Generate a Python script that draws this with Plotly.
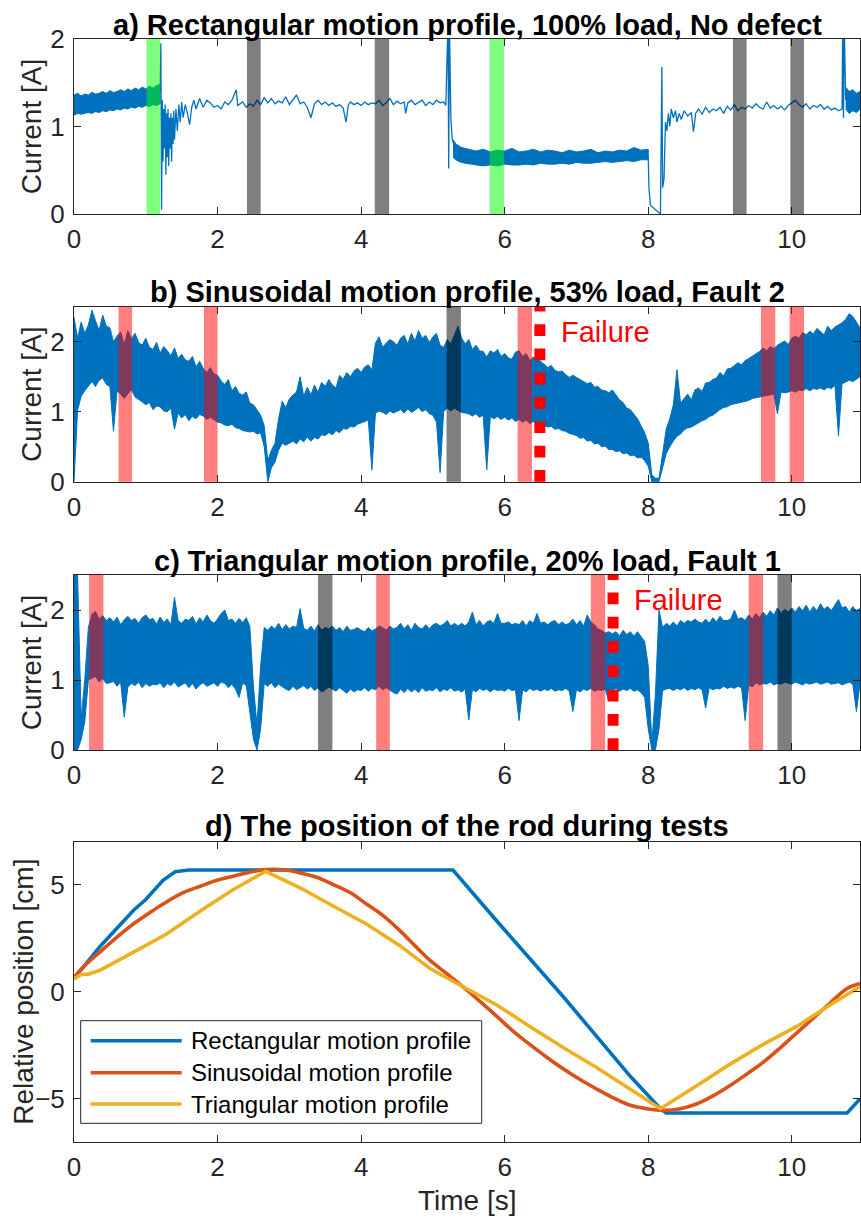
import plotly.graph_objects as go

FONT = "Liberation Sans, Arial, sans-serif"
BLUE = "#0072BD"
ORANGE = "#D95319"
YELLOW = "#EDB120"
AXIS = "#262626"
X_MAX = 10.95
X_TICKS = [0, 2, 4, 6, 8, 10]

# ---------------- a) Rectangular profile, 100% load, no defect ----------------
a_b1_t = [0.00, 0.05, 0.10, 0.15, 0.20, 0.25, 0.30, 0.35, 0.40, 0.45, 0.50, 0.55, 0.60,
          0.65, 0.70, 0.75, 0.80, 0.85, 0.90, 0.95, 1.00, 1.05, 1.10, 1.15, 1.20]
a_b1_hi = [1.36, 1.38, 1.35, 1.37, 1.36, 1.39, 1.37, 1.38, 1.40, 1.38, 1.41, 1.39, 1.40,
           1.42, 1.40, 1.43, 1.41, 1.44, 1.42, 1.45, 1.43, 1.46, 1.44, 1.47, 1.48]
a_b1_lo = [1.13, 1.15, 1.14, 1.15, 1.16, 1.15, 1.17, 1.16, 1.18, 1.17, 1.19, 1.18, 1.20,
           1.19, 1.21, 1.20, 1.22, 1.21, 1.23, 1.22, 1.24, 1.23, 1.25, 1.24, 1.26]

a_l1_t = [1.20, 1.21, 1.22, 1.23, 1.24, 1.25, 1.26, 1.27, 1.28, 1.29, 1.30, 1.31, 1.32, 1.33,
          1.34, 1.35, 1.36, 1.37, 1.38, 1.39, 1.40, 1.42, 1.44, 1.46, 1.48, 1.50, 1.52, 1.55,
          1.58, 1.61, 1.64, 1.67, 1.70, 1.75, 1.80, 1.85, 1.90, 1.95, 2.00, 2.05, 2.10, 2.15,
          2.20, 2.26, 2.28, 2.35, 2.40, 2.45, 2.50, 2.55, 2.60, 2.65, 2.70, 2.75, 2.80, 2.85,
          2.90, 2.95, 3.00, 3.05, 3.10, 3.15, 3.20, 3.25, 3.30, 3.35, 3.40, 3.45, 3.50, 3.55,
          3.60, 3.65, 3.70, 3.75, 3.79, 3.82, 3.85, 3.90, 3.95, 4.00, 4.05, 4.10, 4.15, 4.20,
          4.25, 4.30, 4.35, 4.40, 4.45, 4.50, 4.55, 4.60, 4.62, 4.65, 4.70, 4.75, 4.80, 4.85,
          4.90, 4.95, 5.00, 5.05, 5.10, 5.15, 5.18, 5.21, 5.22, 5.23, 5.25, 5.27, 5.29]
a_l1_y = [1.40, 1.95, 0.05, 1.30, 0.60, 1.20, 0.75, 1.25, 0.45, 1.15, 0.65, 1.20, 0.55, 1.10,
          0.75, 1.15, 0.60, 1.10, 0.80, 1.18, 0.85, 1.20, 0.95, 1.25, 1.05, 1.28, 1.10, 1.25,
          1.15, 1.02, 1.22, 1.30, 1.20, 1.32, 1.22, 1.30, 1.27, 1.22, 1.24, 1.20, 1.28, 1.25,
          1.30, 1.42, 1.24, 1.28, 1.22, 1.26, 1.23, 1.30, 1.25, 1.33, 1.27, 1.32, 1.26, 1.29,
          1.27, 1.34, 1.25, 1.30, 1.36, 1.26, 1.28, 1.22, 1.10, 1.26, 1.30, 1.25, 1.28, 1.24,
          1.27, 1.23, 1.25, 1.21, 1.05, 1.24, 1.28, 1.25, 1.27, 1.24, 1.28, 1.25, 1.27, 1.26,
          1.30, 1.24, 1.27, 1.32, 1.25, 1.29, 1.26, 1.28, 1.15, 1.27, 1.30, 1.25, 1.28, 1.30,
          1.24, 1.28, 1.25, 1.30, 1.27, 1.28, 1.24, 2.20, 0.52, 2.20, 1.10, 0.85, 0.80]

a_b2_t = [5.28, 5.32, 5.36, 5.40, 5.45, 5.50, 5.60, 5.70, 5.80, 5.90, 6.00, 6.10, 6.20, 6.30,
          6.40, 6.50, 6.60, 6.70, 6.80, 6.90, 7.00, 7.10, 7.20, 7.30, 7.40, 7.50, 7.60, 7.70,
          7.80, 7.90, 8.00]
a_b2_hi = [0.85, 0.80, 0.78, 0.76, 0.75, 0.74, 0.72, 0.74, 0.71, 0.73, 0.72, 0.75, 0.71, 0.72,
           0.74, 0.71, 0.73, 0.72, 0.70, 0.73, 0.71, 0.72, 0.74, 0.70, 0.72, 0.71, 0.73, 0.72,
           0.76, 0.73, 0.74]
a_b2_lo = [0.65, 0.62, 0.60, 0.59, 0.58, 0.57, 0.56, 0.55, 0.56, 0.55, 0.57, 0.56, 0.56, 0.57,
           0.56, 0.58, 0.57, 0.57, 0.58, 0.57, 0.59, 0.58, 0.58, 0.59, 0.60, 0.59, 0.60, 0.61,
           0.60, 0.62, 0.62]

a_l2_t = [8.00, 8.01, 8.03, 8.06, 8.10, 8.14, 8.17, 8.19, 8.20, 8.22, 8.24, 8.26, 8.28, 8.30,
          8.32, 8.35, 8.38, 8.40, 8.43, 8.46, 8.50, 8.55, 8.60, 8.63, 8.66, 8.70, 8.75, 8.80,
          8.85, 8.90, 8.95, 9.00, 9.05, 9.10, 9.15, 9.20, 9.25, 9.30, 9.35, 9.40, 9.45, 9.50,
          9.55, 9.60, 9.65, 9.70, 9.75, 9.80, 9.85, 9.90, 9.95, 10.00, 10.05, 10.10, 10.15,
          10.20, 10.25, 10.30, 10.35, 10.40, 10.45, 10.50, 10.55, 10.60, 10.65, 10.70, 10.71,
          10.72, 10.73, 10.75]
a_l2_y = [0.65, 0.30, 0.10, 0.08, 0.05, 0.03, 0.00, 1.68, 0.30, 0.40, 1.05, 0.95, 1.15, 1.00,
          1.20, 1.10, 1.18, 1.05, 1.15, 1.08, 1.18, 1.12, 1.16, 0.94, 1.15, 1.20, 1.14, 1.22,
          1.16, 1.20, 1.18, 1.22, 1.15, 1.23, 1.19, 1.25, 1.18, 1.22, 1.20, 1.24, 1.21, 1.26,
          1.22, 1.20, 1.28, 1.21, 1.24, 1.20, 1.23, 1.19, 1.24, 1.27, 1.30, 1.25, 1.22,
          1.26, 1.20, 1.24, 1.22, 1.25, 1.20, 1.23, 1.19, 1.21, 1.18, 1.20, 2.20,
          1.10, 2.20, 1.30]

a_b3_t = [10.75, 10.80, 10.85, 10.90, 10.95]
a_b3_hi = [1.45, 1.40, 1.42, 1.38, 1.40]
a_b3_lo = [1.20, 1.15, 1.18, 1.16, 1.20]

a_green = [(1.01, 1.20), (5.79, 5.99)]
a_gray = [(2.41, 2.60), (4.19, 4.39), (9.18, 9.37), (9.98, 10.17)]

# ---------------- b) Sinusoidal profile, 53% load, Fault 2 ----------------
# upper / lower envelope of the sampled current, one value every 0.05 s from t = 0
SAMPLE_DT = 0.05
b_hi = [2.35, 2.05, 2.28, 2.12, 2.24, 2.45, 2.30, 2.16, 2.38, 2.22,
        2.20, 2.00, 2.08, 2.14, 1.96, 2.16, 2.04, 2.12, 1.99, 1.95,
        2.05, 1.92, 1.89, 1.99, 1.84, 1.93, 1.87, 1.80, 1.91, 1.76,
        1.82, 1.74, 1.72, 1.79, 1.64, 1.72, 1.62, 1.56, 1.63, 1.54,
        1.52, 1.44, 1.39, 1.46, 1.30, 1.36, 1.26, 1.24, 1.28, 1.12,
        1.10, 1.02, 0.95, 0.80, 0.30, 0.45, 0.55, 0.90, 1.15, 1.06,
        1.18, 1.24, 1.28, 1.50, 1.22, 1.35, 1.24, 1.38, 1.28, 1.42,
        1.36, 1.46, 1.38, 1.34, 1.52, 1.46, 1.56, 1.50, 1.58, 1.62,
        1.56, 1.64, 1.67, 1.60, 1.98, 2.07, 1.92, 1.98, 2.03, 2.00,
        1.95, 2.05, 2.09, 1.97, 2.12, 2.01, 2.16, 2.05, 2.09, 1.99,
        2.07, 2.12, 1.95, 1.92, 2.03, 1.97, 2.09, 2.22, 2.05, 1.97,
        2.03, 1.89, 1.95, 1.87, 1.86, 1.78, 1.87, 1.84, 1.89, 1.79,
        1.83, 1.77, 1.75, 1.85, 1.87, 1.79, 1.83, 1.73, 1.78, 1.76,
        1.72, 1.67, 1.63, 1.66, 1.59, 1.57, 1.58, 1.53, 1.49, 1.52,
        1.49, 1.45, 1.43, 1.40, 1.42, 1.35, 1.36, 1.31, 1.30, 1.27,
        1.31, 1.24, 1.17, 1.13, 1.05, 1.03, 0.97, 0.90, 0.80, 0.70,
        0.55, 0.10, 0.05, 0.05, 0.40, 0.75, 0.90, 1.10, 1.60, 1.12,
        1.19, 1.25, 1.17, 1.31, 1.34, 1.29, 1.41, 1.42, 1.46, 1.48,
        1.56, 1.51, 1.61, 1.62, 1.66, 1.70, 1.67, 1.73, 1.76, 1.79,
        1.83, 1.86, 1.91, 1.87, 1.93, 1.90, 1.95, 1.98, 2.01, 1.96,
        2.05, 2.08, 2.05, 2.13, 2.10, 2.15, 2.11, 2.19, 2.14, 2.10,
        2.22, 2.16, 2.21, 2.24, 2.27, 2.32, 2.40, 2.36, 2.28, 2.20]
b_lo = [0.00, 1.02, 1.22, 1.30, 1.37, 1.43, 1.36, 1.45, 1.48, 1.39,
        1.36, 0.72, 1.30, 1.25, 1.19, 1.26, 1.32, 1.21, 1.18, 1.14,
        1.10, 1.13, 1.03, 1.08, 1.07, 1.01, 1.00, 1.05, 0.75, 0.98,
        0.91, 0.96, 0.87, 0.93, 0.90, 0.96, 0.94, 0.89, 0.92, 0.88,
        0.85, 0.84, 0.81, 0.80, 0.82, 0.77, 0.76, 0.73, 0.72, 0.71,
        0.72, 0.68, 0.70, 0.50, 0.00, 0.20, 0.28, 0.45, 0.55, 0.52,
        0.55, 0.58, 0.54, 0.61, 0.57, 0.64, 0.58, 0.63, 0.61, 0.67,
        0.66, 0.70, 0.67, 0.73, 0.70, 0.76, 0.75, 0.79, 0.78, 0.82,
        0.84, 0.86, 0.88, 0.17, 0.98, 1.01, 0.99, 0.96, 1.01, 0.98,
        1.00, 1.03, 0.98, 1.04, 0.99, 1.02, 1.06, 1.00, 1.03, 0.97,
        0.95, 0.85, 0.13, 1.00, 1.05, 1.01, 1.05, 1.02, 0.99, 0.98,
        0.97, 0.94, 0.97, 0.92, 0.95, 0.17, 0.93, 0.90, 0.93, 0.89,
        0.92, 0.88, 0.91, 0.86, 0.89, 0.85, 0.88, 0.83, 0.86, 0.82,
        0.82, 0.80, 0.78, 0.79, 0.75, 0.76, 0.73, 0.72, 0.69, 0.67,
        0.66, 0.62, 0.63, 0.58, 0.59, 0.54, 0.55, 0.50, 0.51, 0.46,
        0.46, 0.43, 0.44, 0.40, 0.41, 0.37, 0.38, 0.34, 0.35, 0.30,
        0.22, 0.00, 0.00, 0.00, 0.20, 0.40, 0.50, 0.58, 0.65, 0.68,
        0.74, 0.77, 0.78, 0.81, 0.84, 0.87, 0.89, 0.93, 0.95, 0.99,
        1.03, 1.06, 1.07, 1.10, 1.11, 1.12, 1.14, 1.15, 1.16, 1.19,
        1.20, 1.21, 1.23, 1.24, 1.24, 1.25, 0.97, 1.28, 1.27, 1.28,
        1.30, 1.28, 1.31, 1.30, 1.33, 1.30, 1.33, 1.32, 1.34, 1.31,
        1.35, 1.33, 1.38, 0.65, 1.40, 1.42, 1.45, 1.43, 1.47, 1.50]

b_red = [(0.62, 0.81), (1.81, 2.00), (6.18, 6.38), (9.57, 9.77), (9.97, 10.17)]
b_gray = [(5.19, 5.39)]
b_failure = 6.49

# ---------------- c) Triangular profile, 20% load, Fault 1 ----------------
c_hi = [2.50, 2.50, 0.45, 1.00, 1.75, 1.94, 1.98, 1.87, 1.92, 1.85,
        1.89, 1.83, 1.90, 1.79, 1.86, 1.91, 1.85, 1.88, 1.81, 1.89,
        1.93, 1.86, 1.88, 1.80, 1.90, 1.82, 1.87, 1.79, 2.18, 1.85,
        1.81, 1.87, 1.85, 1.91, 1.80, 1.89, 1.83, 1.93, 1.85, 1.81,
        1.87, 1.95, 2.00, 1.85, 1.87, 1.81, 1.88, 1.82, 1.89, 1.76,
        0.90, 0.35, 1.20, 1.75, 1.71, 1.77, 1.73, 1.81, 1.72, 1.79,
        1.73, 1.77, 1.75, 2.02, 1.74, 1.71, 1.77, 1.70, 1.79, 1.71,
        1.75, 1.73, 1.77, 1.71, 1.75, 1.69, 1.77, 1.71, 1.72, 1.75,
        1.71, 1.69, 1.75, 1.70, 1.73, 1.77, 1.75, 1.71, 1.77, 1.73,
        1.75, 1.81, 1.73, 1.79, 1.71, 1.81, 1.75, 1.73, 1.79, 1.73,
        1.79, 1.81, 1.77, 1.80, 1.85, 1.77, 1.81, 1.77, 1.81, 1.77,
        1.83, 1.97, 1.79, 1.85, 1.77, 1.83, 1.85, 1.81, 1.95, 1.81,
        1.81, 1.83, 1.79, 1.81, 1.79, 1.85, 1.77, 1.85, 1.81, 1.95,
        1.81, 1.83, 1.79, 1.83, 1.85, 1.79, 1.83, 1.79, 1.81, 1.87,
        1.79, 1.85, 1.77, 1.93, 1.83, 1.79, 1.73, 1.71, 1.67, 1.69,
        1.66, 1.69, 1.63, 1.71, 1.65, 1.69, 1.63, 1.69, 1.62, 1.55,
        1.20, 0.10, 0.80, 2.00, 1.75, 1.81, 1.77, 1.83, 1.77, 1.85,
        1.81, 1.85, 1.83, 1.87, 1.83, 1.81, 1.87, 1.81, 1.89, 1.83,
        1.91, 1.85, 1.85, 1.87, 2.00, 1.87, 1.89, 1.85, 1.93, 1.87,
        1.95, 1.89, 1.97, 1.91, 1.99, 1.93, 2.03, 1.95, 2.01, 1.97,
        2.03, 1.97, 2.05, 1.99, 2.07, 1.97, 2.05, 1.99, 2.09, 2.01,
        2.05, 1.99, 2.07, 2.15, 2.03, 2.05, 1.97, 2.05, 1.99, 2.02]
c_lo = [0.00, 0.00, 0.15, 0.40, 1.00, 1.03, 1.05, 0.97, 1.02, 0.95,
        0.96, 0.98, 0.91, 0.97, 0.47, 0.90, 0.95, 0.92, 0.97, 0.89,
        0.95, 0.91, 0.94, 0.93, 0.96, 0.89, 0.95, 0.92, 0.97, 0.90,
        0.93, 0.96, 0.89, 0.95, 0.87, 0.93, 0.96, 0.91, 0.94, 0.96,
        0.91, 0.97, 0.95, 0.89, 0.94, 0.87, 0.75, 0.96, 0.92, 0.55,
        0.15, 0.00, 0.30, 0.95, 0.91, 0.96, 0.89, 0.94, 0.91, 0.87,
        0.85, 0.91, 0.86, 0.89, 0.92, 0.87, 0.91, 0.85, 0.89, 0.83,
        0.86, 0.90, 0.87, 0.84, 0.89, 0.85, 0.81, 0.87, 0.83, 0.86,
        0.85, 0.89, 0.84, 0.88, 0.86, 0.91, 0.86, 0.89, 0.85, 0.82,
        0.80, 0.87, 0.82, 0.88, 0.83, 0.87, 0.82, 0.89, 0.84, 0.86,
        0.85, 0.89, 0.83, 0.87, 0.85, 0.89, 0.84, 0.86, 0.83, 0.87,
        0.43, 0.86, 0.83, 0.88, 0.85, 0.87, 0.83, 0.87, 0.85, 0.86,
        0.84, 0.88, 0.85, 0.86, 0.42, 0.86, 0.83, 0.88, 0.85, 0.87,
        0.84, 0.87, 0.85, 0.88, 0.84, 0.86, 0.85, 0.88, 0.84, 0.55,
        0.86, 0.83, 0.87, 0.85, 0.88, 0.84, 0.86, 0.85, 0.87, 0.70,
        0.85, 0.88, 0.84, 0.87, 0.85, 0.88, 0.84, 0.86, 0.82, 0.75,
        0.30, 0.00, 0.00, 0.30, 0.85, 0.87, 0.88, 0.85, 0.88, 0.86,
        0.89, 0.85, 0.88, 0.86, 0.89, 0.86, 0.60, 0.89, 0.86, 0.88,
        0.87, 0.91, 0.88, 0.90, 0.88, 0.91, 0.89, 0.42, 0.93, 0.90,
        0.96, 0.93, 0.95, 0.94, 0.97, 0.93, 0.95, 0.94, 0.97, 0.95,
        0.94, 0.97, 0.95, 0.93, 0.96, 0.94, 0.96, 0.97, 0.94, 0.95,
        0.97, 0.94, 0.95, 0.96, 0.93, 0.95, 0.97, 0.94, 0.55, 0.95]

c_red = [(0.21, 0.41), (4.21, 4.40), (7.20, 7.40), (9.40, 9.60)]
c_gray = [(3.40, 3.60), (9.80, 10.00)]
c_failure = 7.51

# ---------------- d) Rod position ----------------
d_t_rect = [0.00, 0.13, 0.36, 0.60, 0.83, 1.00, 1.24, 1.41, 1.60, 5.28, 5.89, 6.82, 7.75,
            8.17, 8.25, 10.77, 10.95]
d_rect = [0.65, 1.15, 2.10, 3.00, 3.80, 4.30, 5.20, 5.60, 5.68, 5.68, 3.30, -0.25, -3.95,
          -5.46, -5.66, -5.66, -5.00]
d_t_sin = [0.00, 0.13, 0.36, 0.60, 0.83, 1.06, 1.24, 1.52, 1.76, 1.99, 2.22, 2.45, 2.68,
           2.92, 3.15, 3.38, 3.61, 3.85, 4.08, 4.31, 4.54, 4.77, 4.96, 5.19, 5.42, 5.66,
           5.89, 6.12, 6.35, 6.59, 6.82, 7.05, 7.28, 7.51, 7.75, 7.98, 8.21, 8.45, 8.68,
           8.91, 9.14, 9.37, 9.60, 9.84, 10.07, 10.30, 10.53, 10.77, 10.95]
d_sin = [0.65, 1.15, 1.85, 2.55, 3.17, 3.70, 4.09, 4.62, 4.92, 5.20, 5.39, 5.58, 5.70,
         5.69, 5.54, 5.34, 5.00, 4.62, 4.08, 3.54, 2.85, 2.08, 1.46, 0.85, 0.23, -0.46,
         -1.15, -1.85, -2.46, -3.07, -3.61, -4.10, -4.54, -4.95, -5.30, -5.46, -5.54, -5.46,
         -5.23, -4.85, -4.38, -3.85, -3.30, -2.62, -1.92, -1.23, -0.54, 0.15, 0.38]
d_t_tri = [0.00, 0.10, 0.20, 0.36, 0.83, 1.29, 1.76, 2.22, 2.67, 3.15, 3.61, 4.08, 4.54,
           4.96, 5.42, 5.89, 6.35, 6.82, 7.28, 7.75, 8.17, 8.68, 9.14, 9.60, 10.07, 10.53, 10.95]
d_tri = [0.60, 0.80, 0.82, 1.00, 1.85, 2.69, 3.77, 4.77, 5.62, 4.85, 4.00, 3.15, 2.15,
         1.08, 0.23, -0.62, -1.62, -2.62, -3.54, -4.54, -5.46, -4.38, -3.38, -2.46, -1.62,
         -0.62, 0.23]
d_names = ["Rectangular motion profile", "Sinusoidal motion profile", "Triangular motion profile"]

titles = ["a) Rectangular motion profile, 100% load, No defect",
          "b) Sinusoidal motion profile, 53% load, Fault 2",
          "c) Triangular motion profile, 20% load, Fault 1",
          "d) The position of the rod during tests"]

# ---------------- figure ----------------
H = 1218.0
L, W = 74.0, 786.0


def py(pix):
    return 1 - pix / H


def px(pix):
    return (pix - L) / W


def sample_times(values):
    return [round(i * SAMPLE_DT, 2) for i in range(len(values))]


domains = [(214, 39), (481.7, 306.7), (750, 575), (1141.7, 841.7)]
y_ranges = [[0, 2], [0, 2.5], [0, 2.5], [-7, 7]]
y_ticks = [[0, 1, 2], [0, 1, 2], [0, 1, 2], [-5, 0, 5]]

fig = go.Figure()


def ax(n, kind):
    return kind + ("" if n == 1 else str(n))


def band(t, hi, lo, n):
    return go.Scatter(x=list(t) + list(t)[::-1], y=list(hi) + list(lo)[::-1],
                      mode="lines", fill="toself", fillcolor=BLUE,
                      line=dict(color=BLUE, width=1),
                      xaxis=ax(n, "x"), yaxis=ax(n, "y"),
                      showlegend=False, hoverinfo="skip")


def trace_line(t, y, n, color=BLUE, width=1.3, name=None, shape="linear"):
    return go.Scatter(x=t, y=y, mode="lines",
                      line=dict(color=color, width=width, shape=shape),
                      xaxis=ax(n, "x"), yaxis=ax(n, "y"),
                      name=name, showlegend=False, hoverinfo="skip")


fig.add_trace(band(a_b1_t, a_b1_hi, a_b1_lo, 1))
fig.add_trace(trace_line(a_l1_t, a_l1_y, 1))
fig.add_trace(band(a_b2_t, a_b2_hi, a_b2_lo, 1))
fig.add_trace(trace_line(a_l2_t, a_l2_y, 1))
fig.add_trace(band(a_b3_t, a_b3_hi, a_b3_lo, 1))
fig.add_trace(band(sample_times(b_hi), b_hi, b_lo, 2))
fig.add_trace(band(sample_times(c_hi), c_hi, c_lo, 3))
fig.add_trace(trace_line(d_t_rect, d_rect, 4, BLUE, 3.6, d_names[0]))
fig.add_trace(trace_line(d_t_sin, d_sin, 4, ORANGE, 3.6, d_names[1], "spline"))
fig.add_trace(trace_line(d_t_tri, d_tri, 4, YELLOW, 3.6, d_names[2]))

layout = dict(width=861, height=1218, margin=dict(l=74, r=1, t=0, b=0, pad=0),
              paper_bgcolor="white", plot_bgcolor="white", showlegend=False,
              font=dict(family=FONT, color=AXIS))
for i in range(4):
    n = i + 1
    common = dict(showline=True, linecolor=AXIS, linewidth=1, mirror="ticks",
                  ticks="inside", ticklen=7, tickwidth=1, tickcolor=AXIS,
                  showgrid=False, zeroline=False, automargin=False,
                  tickfont=dict(family=FONT, size=26, color=AXIS))
    layout[ax(n, "xaxis")] = dict(common, domain=[0, 1], anchor=ax(n, "y"),
                                  range=[0, X_MAX], tickvals=X_TICKS, ticklabelstandoff=2)
    layout[ax(n, "yaxis")] = dict(common, domain=[py(domains[i][0]), py(domains[i][1])],
                                  anchor=ax(n, "x"), range=y_ranges[i], tickvals=y_ticks[i],
                                  ticklabelstandoff=3)
fig.update_layout(**layout)

shapes = []


def spans(intervals, n, color):
    for a, b in intervals:
        shapes.append(dict(type="rect", xref=ax(n, "x"), yref=ax(n, "y") + " domain",
                           x0=a, x1=b, y0=0, y1=1,
                           fillcolor=color, line=dict(width=0), layer="above"))


GREEN_A = "rgba(0,255,0,0.5)"
GRAY_A = "rgba(0,0,0,0.5)"
RED_A = "rgba(255,0,0,0.5)"
spans(a_green, 1, GREEN_A)
spans(a_gray, 1, GRAY_A)
spans(b_red, 2, RED_A)
spans(b_gray, 2, GRAY_A)
spans(c_red, 3, RED_A)
spans(c_gray, 3, GRAY_A)
for xv, n in [(b_failure, 2), (c_failure, 3)]:
    shapes.append(dict(type="line", xref=ax(n, "x"), yref=ax(n, "y") + " domain",
                       x0=xv, x1=xv, y0=0, y1=1, layer="above",
                       line=dict(color="#FF0000", width=11, dash="11.7px,12.6px")))

# legend box for panel d
leg_x0, leg_x1 = px(80.7), px(481.7)
leg_y0, leg_y1 = 1 - (1123.3 - 841.7) / 300, 1 - (1020.7 - 841.7) / 300
shapes.append(dict(type="rect", xref="x4 domain", yref="y4 domain", x0=leg_x0, x1=leg_x1,
                   y0=leg_y0, y1=leg_y1, fillcolor="white",
                   line=dict(color=AXIS, width=1), layer="above"))
annotations = []
for k, (col, yy) in enumerate(zip([BLUE, ORANGE, YELLOW], [1040.7, 1072.7, 1104.0])):
    yd = 1 - (yy - 841.7) / 300
    shapes.append(dict(type="line", xref="x4 domain", yref="y4 domain",
                       x0=px(90.7), x1=px(181.7), y0=yd, y1=yd, layer="above",
                       line=dict(color=col, width=3.6)))
    annotations.append(dict(text=d_names[k], xref="x4 domain", yref="y4 domain",
                            x=px(189), y=yd, xanchor="left", yanchor="middle",
                            showarrow=False, font=dict(family=FONT, size=24, color="black")))

title_y = [23.7, 290.7, 560, 825]
for i, t in enumerate(titles):
    annotations.append(dict(text="<b>" + t + "</b>", xref="paper", yref="paper",
                            x=0.5, y=py(title_y[i] + 1), xanchor="center", yanchor="middle",
                            showarrow=False, font=dict(family=FONT, size=29, color="black")))

ylabels = ["Current [A]", "Current [A]", "Current [A]", "Relative position [cm]"]
ylab_x = [31.7, 31.7, 31.7, 24]
for i, t in enumerate(ylabels):
    yc = (domains[i][0] + domains[i][1]) / 2
    annotations.append(dict(text=t, xref="paper", yref="paper", x=px(ylab_x[i]), y=py(yc),
                            xanchor="center", yanchor="middle", textangle=-90,
                            showarrow=False, font=dict(family=FONT, size=28, color=AXIS)))

annotations.append(dict(text="Time [s]", xref="paper", yref="paper", x=0.5, y=py(1200),
                        xanchor="center", yanchor="middle", showarrow=False,
                        font=dict(family=FONT, size=28, color=AXIS)))

for n, xv in [(2, 6.75), (3, 7.77)]:
    annotations.append(dict(text="Failure", xref=ax(n, "x"), yref=ax(n, "y"),
                            x=xv, y=2.14, xanchor="left", yanchor="middle",
                            showarrow=False, font=dict(family=FONT, size=29, color="#FF0000")))

fig.update_layout(shapes=shapes, annotations=annotations)
fig.write_html("out.html")
